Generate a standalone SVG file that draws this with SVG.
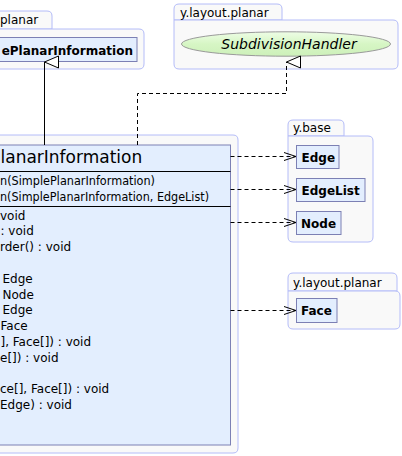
<svg xmlns="http://www.w3.org/2000/svg" width="402" height="456" viewBox="0 0 402 456">
<style>
.pkg{fill:#f9f9f9;stroke:#b4bcf8;stroke-width:1}
.cls{fill:#e3eefe;stroke:#7c80b4;stroke-width:1}
.sep{stroke:#000;stroke-width:1}
.ptxt{font-family:"DejaVu Sans",sans-serif;font-size:12px;fill:#000}
.ctxt{font-family:"DejaVu Sans",sans-serif;font-size:12px;font-weight:bold;fill:#000}
.mtxt{font-family:"DejaVu Sans",sans-serif;font-size:12px;fill:#000}
.title{font-family:"DejaVu Sans",sans-serif;font-size:17px;fill:#000}
.dash{fill:none;stroke:#000;stroke-width:1;stroke-dasharray:4,3}
.solid{fill:none;stroke:#000;stroke-width:1}
</style>
<defs>
<linearGradient id="eg" x1="0" y1="0" x2="0" y2="1">
<stop offset="0" stop-color="#eefde6"/>
<stop offset="0.5" stop-color="#d6f6c4"/>
<stop offset="1" stop-color="#cdf0ba"/>
</linearGradient>
<marker id="open" markerWidth="14" markerHeight="10" refX="13" refY="5" orient="auto" markerUnits="userSpaceOnUse">
<path d="M1,1 L13,5 L1,9" fill="none" stroke="#000" stroke-width="1"/>
</marker>
<marker id="tri" markerWidth="14" markerHeight="16" refX="7" refY="1" orient="auto-start-reverse" markerUnits="userSpaceOnUse">
<path d="M1,15 L7,1 L13,15 Z" fill="#fff" stroke="#000" stroke-width="1"/>
</marker>
</defs>

<g id="pkg-planar-left">
<path class="pkg" d="M-20,11 H47 Q52,11 52,16 V29 H-20 Z"/>
<path class="pkg" d="M-20,29 H139 Q144,29 144,34 V64 Q144,69 139,69 H-20 Z"/>
<text class="ptxt" x="0" y="24">planar</text>
</g>
<g id="SimplePlanarInformation">
<rect class="cls" x="-20" y="37.5" width="157" height="24"/>
<text class="ctxt" x="133" y="54.5" text-anchor="end">ePlanarInformation</text>
</g>

<g id="pkg-planar-top">
<path class="pkg" d="M174,20 V9 Q174,4 179,4 H277 Q282,4 282,9 V20 Z"/>
<path class="pkg" d="M174,20 H393 Q398,20 398,25 V64 Q398,69 393,69 H179 Q174,69 174,64 Z"/>
<text class="ptxt" x="180" y="17">y.layout.planar</text>
</g>
<g id="SubdivisionHandler">
<ellipse cx="286" cy="44" rx="104.5" ry="12.2" fill="url(#eg)" stroke="#9a9a9a" stroke-width="1"/>
<text x="289" y="49" text-anchor="middle" font-family="DejaVu Sans, sans-serif" font-size="14" font-style="italic" fill="#000">SubdivisionHandler</text>
</g>

<g id="pkg-main">
<path class="pkg" d="M-20,135 H233 Q238,135 238,140 V448 Q238,453 233,453 H-20 Z"/>
</g>
<g id="PlanarInformation">
<rect class="cls" x="-20" y="145" width="250.5" height="300"/>
<text class="title" x="0.5" y="163">lanarInformation</text>
<line class="sep" x1="-20" y1="171.5" x2="230.5" y2="171.5"/>
<text class="mtxt" x="0" y="185" textLength="155" lengthAdjust="spacingAndGlyphs">n(SimplePlanarInformation)</text>
<text class="mtxt" x="0" y="201" textLength="209" lengthAdjust="spacingAndGlyphs">n(SimplePlanarInformation, EdgeList)</text>
<line class="sep" x1="-20" y1="206.5" x2="230.5" y2="206.5"/>
<text class="mtxt" x="0" y="219.5">void</text>
<text class="mtxt" x="0.5" y="235.3">: void</text>
<text class="mtxt" x="0" y="251.1">rder() : void</text>
<text class="mtxt" x="2.5" y="282.7">Edge</text>
<text class="mtxt" x="2.5" y="298.5">Node</text>
<text class="mtxt" x="2.5" y="314.3">Edge</text>
<text class="mtxt" x="0.5" y="330.1">Face</text>
<text class="mtxt" x="0.5" y="345.9">], Face[]) : void</text>
<text class="mtxt" x="0" y="361.7">e[]) : void</text>
<text class="mtxt" x="0" y="393.3">ce[], Face[]) : void</text>
<text class="mtxt" x="0" y="409.1">Edge) : void</text>
</g>

<g id="pkg-base">
<path class="pkg" d="M288,136 V125 Q288,120 293,120 H339 Q344,120 344,125 V136 Z"/>
<path class="pkg" d="M288,136 H368 Q373,136 373,141 V237 Q373,242 368,242 H293 Q288,242 288,237 Z"/>
<text class="ptxt" x="293" y="132">y.base</text>
</g>
<g id="Edge">
<rect class="cls" x="296.5" y="145.5" width="42.5" height="23"/>
<text class="ctxt" x="301.5" y="161.5">Edge</text>
</g>
<g id="EdgeList">
<rect class="cls" x="296.5" y="178.5" width="68.5" height="23"/>
<text class="ctxt" x="301.5" y="194.5">EdgeList</text>
</g>
<g id="Node">
<rect class="cls" x="296.5" y="211.5" width="44.5" height="23"/>
<text class="ctxt" x="301" y="227.5">Node</text>
</g>

<g id="pkg-planar-bottom">
<path class="pkg" d="M288,291 V278 Q288,273 293,273 H392 Q397,273 397,278 V291 Z"/>
<path class="pkg" d="M288,291 H395 Q400,291 400,296 V324 Q400,329 395,329 H293 Q288,329 288,324 Z"/>
<text class="ptxt" x="293" y="287">y.layout.planar</text>
</g>
<g id="Face">
<rect class="cls" x="296.5" y="298.5" width="40.5" height="24"/>
<text class="ctxt" x="301" y="315">Face</text>
</g>

<g id="connectors">
<path class="solid" d="M44.5,145 V62" marker-end="url(#tri)"/>
<path class="dash" d="M137.5,145 V93.5 H286.5 V62" marker-end="url(#tri)"/>
<path class="dash" d="M230.5,156.5 H296" marker-end="url(#open)"/>
<path class="dash" d="M230.5,189.5 H296" marker-end="url(#open)"/>
<path class="dash" d="M230.5,222.5 H296" marker-end="url(#open)"/>
<path class="dash" d="M230.5,310.5 H296" marker-end="url(#open)"/>
</g>
</svg>
